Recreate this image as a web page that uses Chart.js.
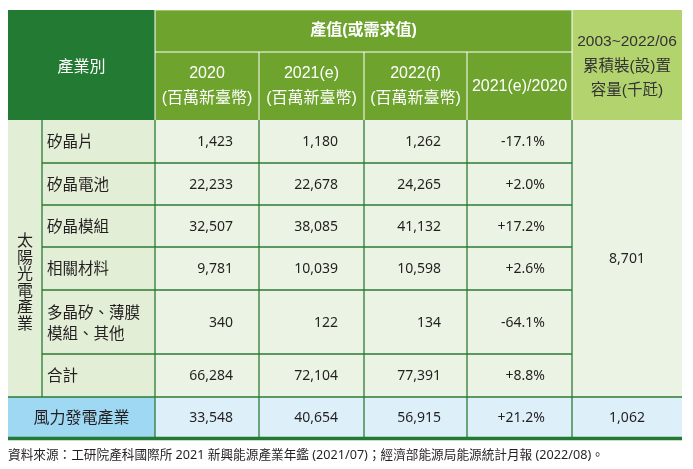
<!DOCTYPE html>
<html>
<head>
<meta charset="utf-8">
<script src="https://cdn.jsdelivr.net/npm/chart.js@4.4.1/dist/chart.umd.min.js"></script>
<style>
  html, body { margin: 0; padding: 0; background: #fff; }
  #wrap { width: 693px; height: 469px; }
</style>
</head>
<body>
<div id="wrap"><canvas id="tbl" width="693" height="469"></canvas></div>
<script>
// table data
const groupLabel = '太陽光電產業';
const items = ['矽晶片', '矽晶電池', '矽晶模組', '相關材料', '多晶矽、薄膜\n模組、其他', '合計'];
const value2020 = [1423, 22233, 32507, 9781, 340, 66284];
const value2021e = [1180, 22678, 38085, 10039, 122, 72104];
const value2022f = [1262, 24265, 41132, 10598, 134, 77391];
const growth = [-17.1, 2.0, 17.2, 2.6, -64.1, 8.8];
const solarCapacity = 8701;

const windLabel = '風力發電產業';
const windValues = [33548, 40654, 56915];
const windGrowth = 21.2;
const windCapacity = 1062;

const headCategory = '產業別';
const headValue = '產值(或需求值)';
const headCols = [['2020', '(百萬新臺幣)'], ['2021(e)', '(百萬新臺幣)'], ['2022(f)', '(百萬新臺幣)'], ['2021(e)/2020']];
const headCapacity = ['2003~2022/06', '累積裝(設)置', '容量(千瓩)'];
const sourceNote = '資料來源：工研院產科國際所 2021 新興能源產業年鑑 (2021/07)；經濟部能源局能源統計月報 (2022/08)。';

// layout (in scale units)
const colEdges = [8, 42, 155, 259, 364, 467, 572, 682];
const rowEdges = [10, 52, 120, 163, 205, 247, 290, 354, 397, 437];

const CJK = '"Noto Sans CJK TC", "Noto Sans CJK SC"';
const fontNum = '14px "Noto Sans", ' + CJK;
const fontLabel = '15.5px ' + CJK;
const fontHead = '16px "Liberation Sans", ' + CJK;
const ink = '#231f20';
const gridGreen = '#2b7b35';

const fmt = v => v.toLocaleString('en-US');
const fmtPct = v => (v > 0 ? '+' : '') + v.toFixed(1) + '%';

const tablePlugin = {
    id: 'tableCells',
    beforeDraw(chart) {
        const ctx = chart.ctx;
        const sx = chart.scales.x, sy = chart.scales.y;
        const px = v => sx.getPixelForValue(v);
        const py = v => sy.getPixelForValue(v);

        function cell(x0, y0, x1, y1, color) {
            ctx.fillStyle = color;
            ctx.fillRect(px(x0), py(y0), px(x1) - px(x0), py(y1) - py(y0));
        }
        function line(x0, y0, x1, y1, color, w) {
            ctx.strokeStyle = color;
            ctx.lineWidth = w;
            ctx.beginPath();
            ctx.moveTo(px(x0), py(y0));
            ctx.lineTo(px(x1), py(y1));
            ctx.stroke();
        }
        function text(str, xv, yv, align, font, color) {
            ctx.font = font;
            ctx.fillStyle = color;
            ctx.textAlign = align;
            ctx.textBaseline = 'middle';
            ctx.fillText(str, px(xv), py(yv));
        }
        const mid = (a, b) => (a + b) / 2;

        ctx.save();
        ctx.fillStyle = '#fff';
        ctx.fillRect(0, 0, chart.width, chart.height);

        // header
        const hTop = rowEdges[0], hMid = rowEdges[1], hBot = rowEdges[2];
        cell(colEdges[0], hTop, colEdges[2], hBot, '#237a33');
        cell(colEdges[2], hTop, colEdges[6], hBot, '#6ea32e');
        cell(colEdges[6], hTop, colEdges[7], hBot, '#b3d36f');
        line(colEdges[2], hTop + 0.5, colEdges[6], hTop + 0.5, '#9cc46a', 1);
        line(colEdges[2], hTop, colEdges[2], hBot, '#ffffff', 1);
        line(colEdges[6], hTop, colEdges[6], hBot, '#ffffff', 1);
        line(colEdges[2], hMid, colEdges[6], hMid, '#ffffff', 1);
        for (let c = 3; c <= 5; c++) line(colEdges[c], hMid, colEdges[c], hBot, '#ffffff', 1);

        text(headCategory, mid(colEdges[0], colEdges[2]), mid(hTop, hBot) + 1, 'center', '16px ' + CJK, '#ffffff');
        text(headValue, mid(colEdges[2], colEdges[6]), mid(hTop, hMid), 'center', 'bold 16px "Liberation Sans", ' + CJK, '#ffffff');
        headCols.forEach((lines, i) => {
            const cx = mid(colEdges[i + 2], colEdges[i + 3]);
            const cy = mid(hMid, hBot);
            if (lines.length === 1) {
                text(lines[0], cx, cy + 1, 'center', fontHead, '#ffffff');
            } else {
                text(lines[0], cx, cy - 12, 'center', fontHead, '#ffffff');
                text(lines[1], cx, cy + 13, 'center', fontHead, '#ffffff');
            }
        });
        const capX = mid(colEdges[6], colEdges[7]);
        headCapacity.forEach((s, i) => {
            text(s, capX, 42 + i * 24.5, 'center', '15.5px "Liberation Sans", ' + CJK, '#333333');
        });

        // body
        const bTop = rowEdges[2], solarBot = rowEdges[8], windBot = rowEdges[9];
        cell(colEdges[0], bTop, colEdges[2], solarBot, '#e3eed6');
        cell(colEdges[2], bTop, colEdges[7], solarBot, '#ebf4e4');
        cell(colEdges[0], solarBot, colEdges[2], windBot, '#9fd8f3');
        cell(colEdges[2], solarBot, colEdges[7], windBot, '#ddf0fa');

        // grid
        line(colEdges[1], bTop, colEdges[1], solarBot, gridGreen, 1.3);
        for (let c = 2; c <= 6; c++) line(colEdges[c], bTop, colEdges[c], windBot, gridGreen, 1.3);
        for (let r = 3; r <= 7; r++) line(colEdges[1], rowEdges[r], colEdges[6], rowEdges[r], gridGreen, 1.3);
        line(colEdges[0], solarBot, colEdges[7], solarBot, gridGreen, 1.3);
        line(colEdges[0], windBot + 1.5, colEdges[7], windBot + 1.5, '#237a33', 3.5);

        // vertical group label
        const gx = mid(colEdges[0], colEdges[1]);
        [...groupLabel].forEach((ch, i) => {
            text(ch, gx, 240 + i * 16.6, 'center', '16px ' + CJK, ink);
        });

        const numCols = [value2020, value2021e, value2022f];
        items.forEach((name, r) => {
            const y0 = rowEdges[r + 2], y1 = rowEdges[r + 3];
            const cy = mid(y0, y1);
            const parts = name.split('\n');
            if (parts.length === 1) {
                text(parts[0], colEdges[1] + 5, cy, 'left', fontLabel, ink);
            } else {
                text(parts[0], colEdges[1] + 5, cy - 10, 'left', fontLabel, ink);
                text(parts[1], colEdges[1] + 5, cy + 11, 'left', fontLabel, ink);
            }
            numCols.forEach((arr, c) => {
                text(fmt(arr[r]), colEdges[c + 3] - 26, cy + 1, 'right', fontNum, ink);
            });
            text(fmtPct(growth[r]), colEdges[6] - 27, cy + 1, 'right', fontNum, ink);
        });
        text(fmt(solarCapacity), capX, mid(bTop, solarBot) + 1, 'center', fontNum, ink);

        // wind row
        const wy = mid(solarBot, windBot);
        text(windLabel, mid(colEdges[0], colEdges[2]), wy, 'center', '16px ' + CJK, ink);
        windValues.forEach((v, c) => {
            text(fmt(v), colEdges[c + 3] - 26, wy + 1, 'right', fontNum, ink);
        });
        text(fmtPct(windGrowth), colEdges[6] - 27, wy + 1, 'right', fontNum, ink);
        text(fmt(windCapacity), capX, wy + 1, 'center', fontNum, ink);

        // source
        text(sourceNote, colEdges[0], 455, 'left', '12.65px "Noto Sans", ' + CJK, ink);

        ctx.restore();
    }
};

new Chart(document.getElementById('tbl'), {
    type: 'scatter',
    data: { datasets: [] },
    options: {
        responsive: false,
        animation: false,
        devicePixelRatio: 1,
        layout: { padding: 0 },
        plugins: { legend: { display: false }, tooltip: { enabled: false } },
        scales: {
            x: { type: 'linear', min: 0, max: 693, display: false },
            y: { type: 'linear', min: 0, max: 469, reverse: true, display: false }
        }
    },
    plugins: [tablePlugin]
});
</script>
</body>
</html>
